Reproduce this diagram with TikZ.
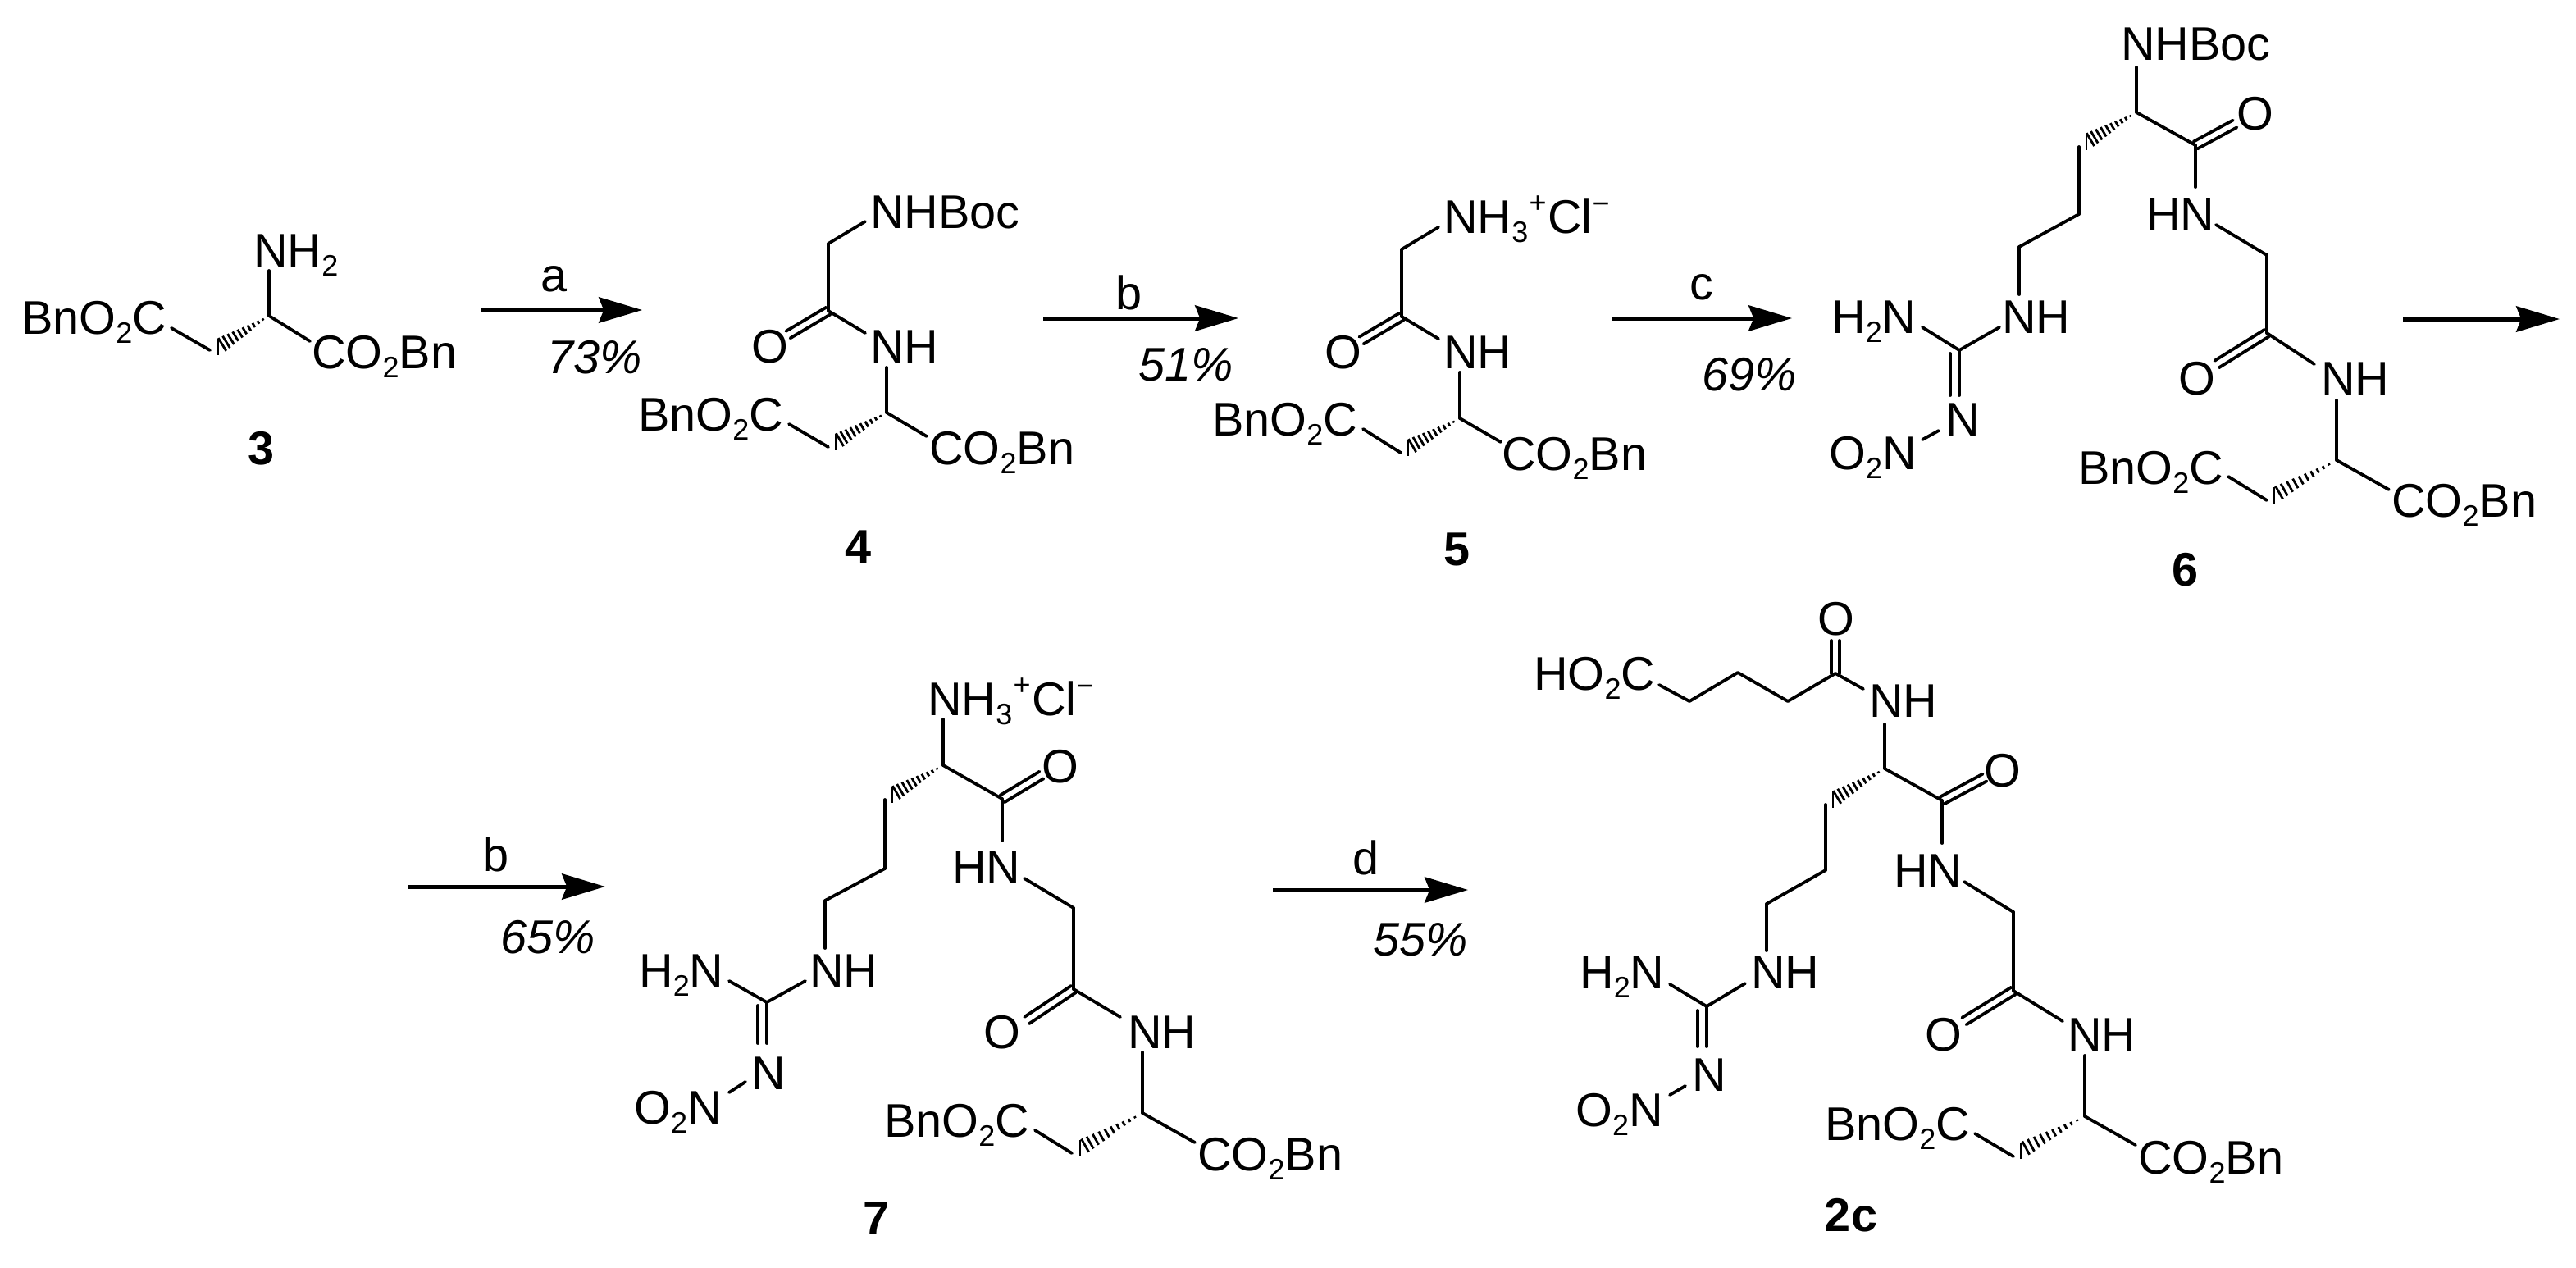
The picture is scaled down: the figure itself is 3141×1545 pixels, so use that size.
\documentclass[tikz,border=0pt]{standalone}
\usepackage{fontspec}
\setmainfont{Liberation Sans}
\usetikzlibrary{calc,arrows.meta}
\newcommand\sbs[1]{\raisebox{-2.75pt}{\fontsize{9pt}{9pt}\selectfont #1}}
\newcommand\spl{\raisebox{6.2pt}{\fontsize{9pt}{9pt}\selectfont +}}
\newcommand\smi{\raisebox{6pt}{\fontsize{9pt}{9pt}\selectfont −}}
\newcommand\AB{BnO\sbs{2}C}
\newcommand\CB{CO\sbs{2}Bn}
\newcommand\NT{NH\sbs{3}\kern.3pt\spl\kern.4pt Cl\smi}
\newcommand\atm[4]{\node[atom] (#1) at (#2,#3) {#4};}
\newcommand\cd[3]{\coordinate (#1) at (#2,#3);}
\newcommand\mybond[2]{\draw[bond] (#1) -- (#2);}
\newcommand\mydbl[2]{\draw[bond] ($(#1)!1.25pt!90:(#2)$) -- ($(#2)!1.25pt!-90:(#1)$);
  \draw[bond] ($(#1)!1.25pt!-90:(#2)$) -- ($(#2)!1.25pt!90:(#1)$);}
\newcommand\myhash[2]{\foreach \t in {.12,.21,.30,.39,.48,.57,.66,.75,.84,.92,1.0}{
  \draw[hashline] ($(#1)!\t!(#2)!{\t*2.5pt}!90:(#2)$) -- ($(#1)!\t!(#2)!{-\t*2.5pt}!90:(#2)$);}}
\tikzset{
  atom/.style={inner sep=0pt,outer sep=0pt,anchor=base west,xshift=-.7pt,font=\fontsize{14.4pt}{14.4pt}\selectfont},
  yieldlbl/.style={atom,font=\fontsize{14.4pt}{14.4pt}\selectfont\itshape},
  cpd/.style={inner sep=0pt,outer sep=0pt,anchor=base,font=\fontsize{14.4pt}{14.4pt}\selectfont\bfseries},
  cond/.style={inner sep=0pt,outer sep=0pt,anchor=base,font=\fontsize{14.4pt}{14.4pt}\selectfont},
  bond/.style={draw=black,line width=.95pt,line cap=round,line join=round},
  hashline/.style={draw=black,line width=.7pt},
  rxn/.style={draw=black,line width=1.25pt,-{Stealth[length=13.2pt,width=7.8pt,inset=1.5pt]}}
}
\begin{document}
\begin{tikzpicture}[x=.25pt,y=-.25pt]
\useasboundingbox (0,0) rectangle (3141,1545);

% ---------- compound 3
\atm{aA}{29}{407}{\AB}
\atm{aN}{312}{325}{NH\sbs{2}}
\atm{aC}{383}{449}{\CB}
\cd{aae}{209}{400}\cd{ach}{256}{427}\cd{ahe}{266}{423}\cd{as}{328}{385}\cd{anb}{328}{330}\cd{ace}{378}{416}
\mybond{aae}{ach}\myhash{as}{ahe}\mybond{as}{anb}\mybond{as}{ace}
\node[cpd] (lab3) at (319,566) {3};

% arrow a
\cd{r1s}{587}{378}\cd{r1e}{783}{378}
\draw[rxn] (r1s) -- (r1e);
\node[cond] (ca) at (676,355) {a};
\node[yieldlbl] (ya) at (670,455) {73\%};

% ---------- compound 4
\atm{bB}{1064}{278}{NHBoc}
\atm{bO}{919}{442}{O}
\atm{bN}{1064}{442}{NH}
\atm{bA}{781}{525}{\AB}
\atm{bC}{1136}{566}{\CB}
\cd{bbe}{1055}{270}\cd{bm}{1010}{297}\cd{bc}{1010}{379}\cd{boe}{961}{408}\cd{bne}{1055}{406}
\cd{bnb}{1081}{448}\cd{bs}{1081}{503}\cd{bce}{1130}{532}\cd{bch}{1010}{545}\cd{bhe}{1019}{539}\cd{bae}{962}{517}
\mybond{bbe}{bm}\mybond{bm}{bc}\mydbl{bc}{boe}\mybond{bc}{bne}\mybond{bnb}{bs}\mybond{bs}{bce}\myhash{bs}{bhe}\mybond{bch}{bae}
\node[cpd] (lab4) at (1047,686) {4};

% arrow b
\cd{r2s}{1272}{388}\cd{r2e}{1510}{388}
\draw[rxn] (r2s) -- (r2e);
\node[cond] (cb) at (1377,377) {b};
\node[yieldlbl] (yb) at (1391,464) {51\%};

% ---------- compound 5
\atm{cB}{1763}{284}{\NT}
\atm{cO}{1618}{449}{O}
\atm{cN}{1763}{449}{NH}
\atm{cA}{1481}{531}{\AB}
\atm{cC}{1834}{573}{\CB}
\cd{cbe}{1754}{277}\cd{cm}{1709}{304}\cd{cc}{1709}{386}\cd{coe}{1660}{415}\cd{cne}{1754}{413}
\cd{cnb}{1780}{454}\cd{cs}{1780}{510}\cd{cce}{1830}{539}\cd{cch}{1708}{552}\cd{che}{1717}{546}\cd{cae}{1662}{523}
\mybond{cbe}{cm}\mybond{cm}{cc}\mydbl{cc}{coe}\mybond{cc}{cne}\mybond{cnb}{cs}\mybond{cs}{cce}\myhash{cs}{che}\mybond{cch}{cae}
\node[cpd] (lab5) at (1777,689) {5};

% arrow c
\cd{r3s}{1965}{388}\cd{r3e}{2185}{388}
\draw[rxn] (r3s) -- (r3e);
\node[cond] (cc2) at (2075,365) {c};
\node[yieldlbl] (yc) at (2078,476) {69\%};

% ---------- compound 6
\atm{dB}{2589}{73}{NHBoc}
\atm{dO1}{2730}{158}{O}
\atm{dH}{2620}{281}{HN}
\atm{dO2}{2659}{481}{O}
\atm{dN}{2833}{481}{NH}
\atm{dA}{2537}{590}{\AB}
\atm{dC}{2919}{630}{\CB}
\atm{dG}{2444}{406}{NH}
\atm{dH2}{2236}{406}{H\sbs{2}N}
\atm{dNN}{2375}{531}{N}
\atm{dNO}{2233}{572}{O\sbs{2}N}
\cd{dnt}{2605}{82}\cd{ds}{2605}{137}\cd{dhe}{2544}{173}\cd{dv1}{2535}{179}\cd{dv2}{2535}{261}\cd{dv3}{2462}{301}\cd{dv4}{2462}{359}
\cd{dk}{2677}{177}\cd{doe}{2725}{151}\cd{dhb}{2677}{228}\cd{dhn}{2702}{274}\cd{dm}{2764}{311}\cd{dk2}{2764}{406}\cd{do2e}{2703}{444}
\cd{dne}{2822}{444}\cd{dnb}{2849}{488}\cd{ds2}{2849}{561}\cd{dce}{2913}{597}\cd{dch}{2764}{610}\cd{dhe2}{2773}{604}\cd{dae}{2717}{581}
\cd{dg}{2389}{427}\cd{dge}{2438}{399}\cd{dgh}{2344}{399}\cd{dd1}{2389}{482}\cd{dd2a}{2378}{431}\cd{dd2b}{2378}{482}\cd{dn1}{2364}{525}\cd{dn2}{2344}{536}
\mybond{dnt}{ds}\myhash{ds}{dhe}\mybond{ds}{dk}\mydbl{dk}{doe}\mybond{dk}{dhb}\mybond{dhn}{dm}\mybond{dm}{dk2}\mydbl{dk2}{do2e}\mybond{dk2}{dne}
\mybond{dnb}{ds2}\mybond{ds2}{dce}\myhash{ds2}{dhe2}\mybond{dch}{dae}
\mybond{dv1}{dv2}\mybond{dv2}{dv3}\mybond{dv3}{dv4}
\mybond{dg}{dge}\mybond{dg}{dgh}\mybond{dg}{dd1}\mybond{dd2a}{dd2b}\mybond{dn1}{dn2}
\node[cpd] (lab6) at (2664,714) {6};

% arrow to next line
\cd{r4s}{2930}{389}\cd{r4e}{3121}{389}
\draw[rxn] (r4s) -- (r4e);

% arrow b (second line)
\cd{r5s}{498}{1081}\cd{r5e}{738}{1081}
\draw[rxn] (r5s) -- (r5e);
\node[cond] (cb2) at (605,1062) {b};
\node[yieldlbl] (yb2) at (613,1162) {65\%};

% ---------- compound 7
\atm{eB}{1134}{872}{\NT}
\atm{eO1}{1273}{954}{O}
\atm{eH}{1164}{1077}{HN}
\atm{eO2}{1202}{1278}{O}
\atm{eN}{1378}{1278}{NH}
\atm{eA}{1081}{1386}{\AB}
\atm{eC}{1463}{1427}{\CB}
\atm{eG}{990}{1203}{NH}
\atm{eH2}{782}{1203}{H\sbs{2}N}
\atm{eNN}{919}{1328}{N}
\atm{eNO}{776}{1370}{O\sbs{2}N}
\cd{ent}{1150}{877}\cd{es}{1150}{933}\cd{ehe}{1088}{969}\cd{ev1}{1079}{975}\cd{ev2}{1079}{1059}\cd{ev3}{1006}{1098}\cd{ev4}{1006}{1156}
\cd{ek}{1222}{974}\cd{eoe}{1270}{945}\cd{ehb}{1222}{1025}\cd{ehn}{1249}{1071}\cd{em}{1309}{1107}\cd{ek2}{1309}{1206}\cd{eo2e}{1252}{1244}
\cd{ene}{1366}{1240}\cd{enb}{1393}{1283}\cd{es2}{1393}{1357}\cd{ece}{1457}{1393}\cd{ech}{1307}{1406}\cd{ehe2}{1317}{1400}\cd{eae}{1262}{1378}
\cd{eg}{935}{1222}\cd{ege}{982}{1196}\cd{egh}{889}{1196}\cd{ed1}{935}{1272}\cd{ed2a}{924}{1226}\cd{ed2b}{924}{1272}\cd{en1}{909}{1319}\cd{en2}{889}{1332}
\mybond{ent}{es}\myhash{es}{ehe}\mybond{es}{ek}\mydbl{ek}{eoe}\mybond{ek}{ehb}\mybond{ehn}{em}\mybond{em}{ek2}\mydbl{ek2}{eo2e}\mybond{ek2}{ene}
\mybond{enb}{es2}\mybond{es2}{ece}\myhash{es2}{ehe2}\mybond{ech}{eae}
\mybond{ev1}{ev2}\mybond{ev2}{ev3}\mybond{ev3}{ev4}
\mybond{eg}{ege}\mybond{eg}{egh}\mybond{eg}{ed1}\mybond{ed2a}{ed2b}\mybond{en1}{en2}
\node[cpd] (lab7) at (1069,1505) {7};

% arrow d
\cd{r6s}{1552}{1085}\cd{r6e}{1790}{1085}
\draw[rxn] (r6s) -- (r6e);
\node[cond] (cd) at (1666,1066) {d};
\node[yieldlbl] (yd) at (1677,1165) {55\%};

% ---------- compound 2c
\atm{fHO}{1873}{841}{HO\sbs{2}C}
\atm{fO0}{2219}{774}{O}
\atm{fN0}{2282}{874}{NH}
\atm{fO1}{2422}{959}{O}
\atm{fH}{2312}{1081}{HN}
\atm{fO2}{2350}{1281}{O}
\atm{fN}{2524}{1281}{NH}
\atm{fA}{2228}{1390}{\AB}
\atm{fC}{2610}{1431}{\CB}
\atm{fG}{2138}{1205}{NH}
\atm{fH2}{1929}{1205}{H\sbs{2}N}
\atm{fNN}{2066}{1330}{N}
\atm{fNO}{1924}{1373}{O\sbs{2}N}
\cd{fa0}{2023}{835}\cd{fa1}{2060}{855}\cd{fa2}{2119}{820}\cd{fa3}{2180}{855}\cd{fk0}{2238}{821}\cd{fo0e}{2238}{781}\cd{fne0}{2272}{840}
\cd{fnt}{2298}{883}\cd{fs}{2298}{937}\cd{fhe}{2235}{975}\cd{fv1}{2226}{981}\cd{fv2}{2226}{1061}\cd{fv3}{2154}{1102}\cd{fv4}{2154}{1159}
\cd{fk}{2368}{976}\cd{foe}{2420}{948}\cd{fhb}{2368}{1028}\cd{fhn}{2395}{1075}\cd{fm}{2455}{1112}\cd{fk2}{2455}{1208}\cd{fo2e}{2395}{1245}
\cd{fne}{2515}{1245}\cd{fnb}{2542}{1287}\cd{fs2}{2542}{1361}\cd{fce}{2604}{1396}\cd{fch}{2455}{1410}\cd{fhe2}{2464}{1403}\cd{fae}{2408}{1382}
\cd{fg}{2081}{1227}\cd{fge}{2128}{1199}\cd{fgh}{2036}{1200}\cd{fd1}{2081}{1276}\cd{fd2a}{2070}{1232}\cd{fd2b}{2070}{1276}\cd{fn1}{2055}{1324}\cd{fn2}{2036}{1335}
\mybond{fa0}{fa1}\mybond{fa1}{fa2}\mybond{fa2}{fa3}\mybond{fa3}{fk0}\mydbl{fk0}{fo0e}\mybond{fk0}{fne0}
\mybond{fnt}{fs}\myhash{fs}{fhe}\mybond{fs}{fk}\mydbl{fk}{foe}\mybond{fk}{fhb}\mybond{fhn}{fm}\mybond{fm}{fk2}\mydbl{fk2}{fo2e}\mybond{fk2}{fne}
\mybond{fnb}{fs2}\mybond{fs2}{fce}\myhash{fs2}{fhe2}\mybond{fch}{fae}
\mybond{fv1}{fv2}\mybond{fv2}{fv3}\mybond{fv3}{fv4}
\mybond{fg}{fge}\mybond{fg}{fgh}\mybond{fg}{fd1}\mybond{fd2a}{fd2b}\mybond{fn1}{fn2}
\node[cpd] (lab2c) at (2257,1501) {2c};
\end{tikzpicture}
\end{document}
